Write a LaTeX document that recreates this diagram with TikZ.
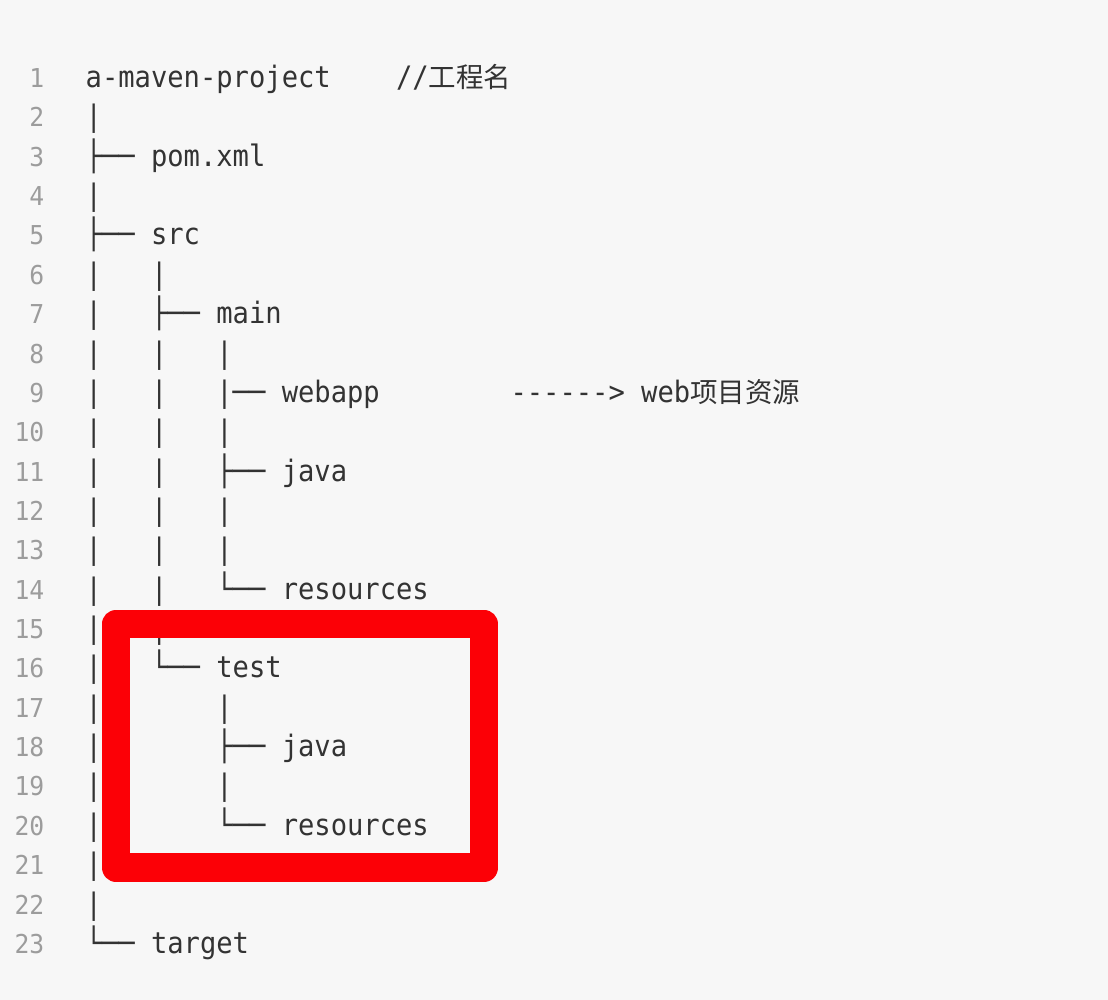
\documentclass[tikz,border=0pt]{standalone}
\usepackage{fontspec}
\usepackage{tikz}
\usetikzlibrary{positioning}
\usepackage{xcolor}
\definecolor{codebg}{HTML}{F7F7F7}
\definecolor{codetext}{HTML}{333333}
\definecolor{lnumgrey}{HTML}{9C9C9C}
\definecolor{markred}{RGB}{252,0,6}
\newfontfamily\codefont{DejaVu Sans Mono}[Ligatures=TeXOff, FakeStretch=0.92]
\newfontfamily\numfont{DejaVu Sans Mono}[FakeStretch=0.95]
\newfontfamily\cjk{Noto Sans CJK SC}
\newcommand{\zh}[1]{{\cjk\fontsize{27.5}{27.5}\selectfont #1}}

\begin{document}
\begin{tikzpicture}[x=1pt, y=-1pt,
    lnum/.style={anchor=base east, inner sep=0pt, text=lnumgrey,
        font=\numfont\fontsize{26}{26}\selectfont},
    code/.style={anchor=base west, inner sep=0pt, text=codetext,
        font=\codefont\fontsize{29.5}{30}\selectfont},
    hilite/.style={draw=markred, line width=28.3pt, line join=round}
]
    \fill[codebg] (0,0) rectangle (1108,1000);

    % line numbers
    \foreach \i in {1,...,23}
        \node[lnum] (n\i) at (44.5,{87.5+(\i-1)*39.36}) {\i};

    % the listing, one node per line
    \foreach \txt [count=\i] in {
        a-maven-project~~~~//\zh{工程名},
        |,
        ├──~pom.xml,
        |,
        ├──~src,
        |~~~|,
        |~~~├──~main,
        |~~~|~~~|,
        |~~~|~~~|──~webapp~~~~~~~~------>~web\zh{项目资源},
        |~~~|~~~|,
        |~~~|~~~├──~java,
        |~~~|~~~|,
        |~~~|~~~|,
        |~~~|~~~└──~resources,
        |~~~|,
        |~~~└──~test,
        |~~~~~~~|,
        |~~~~~~~├──~java,
        |~~~~~~~|,
        |~~~~~~~└──~resources,
        |,
        |,
        └──~target}
        \node[code] (l\i) at (85.5,{87.5+(\i-1)*39.36}) {\txt};

    % highlight round the test folder
    \draw[hilite] (115.9,624.2) rectangle (484.2,867.5);
\end{tikzpicture}
\end{document}
